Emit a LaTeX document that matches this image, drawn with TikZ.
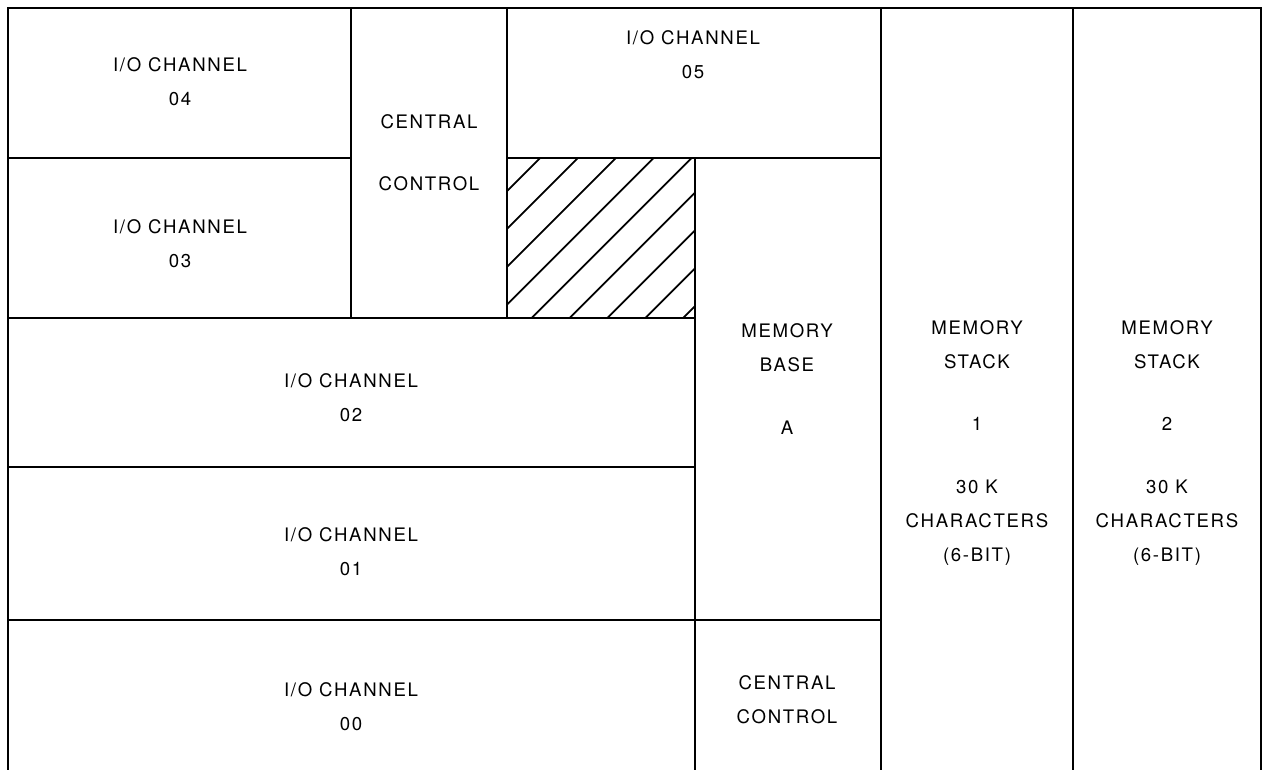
\documentclass[tikz,border=0pt]{standalone}
\usepackage{fontspec}
\setmainfont{TeX Gyre Heros}
\newfontfamily\plainfont[LetterSpace=9]{TeX Gyre Heros}
\tikzset{
  txt/.style={align=center, font=\plainfont\fontsize{10.6}{19.5}\selectfont, inner sep=0pt},
  wall/.style={line width=1.4pt, line cap=rect},
  hatch/.style={line width=1pt}
}
\begin{document}
\begin{tikzpicture}[x=0.02cm, y=-0.02cm]
\useasboundingbox (0,0) rectangle (1263,769);
% outer frame, open at the bottom
\draw[wall] (8,769) -- (8,8) -- (1261,8) -- (1261,769);
% vertical walls
\draw[wall] (351,8) -- (351,318);
\draw[wall] (507,8) -- (507,318);
\draw[wall] (695,158) -- (695,769);
\draw[wall] (881,8) -- (881,769);
\draw[wall] (1073,8) -- (1073,769);
% horizontal walls
\draw[wall] (8,158) -- (351,158);
\draw[wall] (507,158) -- (881,158);
\draw[wall] (8,318) -- (695,318);
\draw[wall] (8,467) -- (695,467);
\draw[wall] (8,620) -- (881,620);
% unused area
\begin{scope}
\clip (507,158) rectangle (695,318);
\foreach \i in {0,...,8}
  \draw[hatch] ({380+37.9*\i},318) -- ({380+37.9*\i+200},118);
\end{scope}
% labels
\node[txt] (ch04) at (180,82) {I/O CHANNEL\\04};
\node[txt] (ch03) at (180,244) {I/O CHANNEL\\03};
\node[txt] (cc1) at (429,153) {CENTRAL\\[16pt]CONTROL};
\node[txt] (ch05) at (693,55) {I/O CHANNEL\\05};
\node[txt] (ch02) at (351,398) {I/O CHANNEL\\02};
\node[txt] (ch01) at (351,552) {I/O CHANNEL\\01};
\node[txt] (ch00) at (351,707) {I/O CHANNEL\\00};
\node[txt] (base) at (787,379) {MEMORY\\BASE\\[16pt]A};
\node[txt] (cc2) at (787,700) {CENTRAL\\CONTROL};
\node[txt] (stk1) at (977,443) {MEMORY\\STACK\\[16pt]1\\[16pt]30 K\\CHARACTERS\\(6-BIT)};
\node[txt] (stk2) at (1167,443) {MEMORY\\STACK\\[16pt]2\\[16pt]30 K\\CHARACTERS\\(6-BIT)};
\end{tikzpicture}
\end{document}
